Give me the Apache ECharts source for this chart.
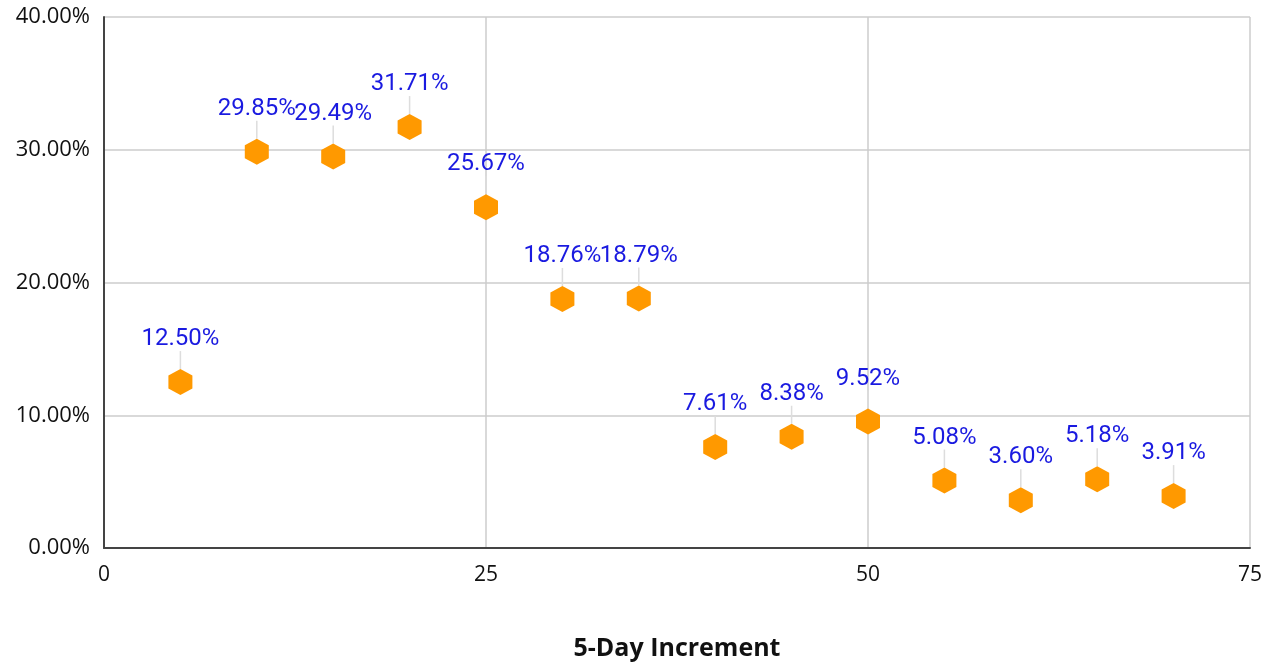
<!DOCTYPE html>
<html><head><meta charset="utf-8">
<script src="https://cdn.jsdelivr.net/npm/echarts@6/dist/echarts.min.js"></script>
<style>html,body{margin:0;padding:0;background:#fff}#c{width:1269px;height:666px}</style>
</head><body><div id="c"></div>
<script>
const days = [5,10,15,20,25,30,35,40,45,50,55,60,65,70];
const rates = [12.50,29.85,29.49,31.71,25.67,18.76,18.79,7.61,8.38,9.52,5.08,3.60,5.18,3.91];
const yTicks = [0,10,20,30,40];
const xTicks = [0,25,50,75];
const hex = 'path://M0,-1 L0.866,-0.5 L0.866,0.5 L0,1 L-0.866,0.5 L-0.866,-0.5 Z';
const chart = echarts.init(document.getElementById('c'));
chart.setOption({
  animation:false,
  grid:{left:104,right:19,top:17,bottom:118,containLabel:false,outerBoundsMode:'none'},
  xAxis:{type:'value',min:0,max:75,interval:25,
    name:'5-Day Increment',nameLocation:'middle',nameGap:88,
    nameTextStyle:{fontFamily:'Open Sans',fontWeight:'bold',fontSize:25,color:'#111'},
    axisLine:{lineStyle:{color:'#444',width:2}},axisTick:{show:false},
    axisLabel:{fontFamily:'Open Sans',fontSize:21,color:'#111',margin:17},
    splitLine:{show:true,lineStyle:{color:'#ccc',width:1.5}}},
  yAxis:{type:'value',min:0,max:40,interval:10,
    axisLine:{show:true,lineStyle:{color:'#444',width:2}},axisTick:{show:false},
    axisLabel:{fontFamily:'Open Sans',fontSize:22,color:'#111',margin:14,formatter:v=>v.toFixed(2)+'%'},
    splitLine:{show:true,lineStyle:{color:'#ccc',width:1.5}}},
  series:[{type:'scatter',data:days.map((d,i)=>[d,rates[i]]),
    symbol:hex,symbolSize:[24,26],symbolKeepAspect:false,
    itemStyle:{color:'#ff9900',opacity:1},
    label:{show:true,position:'top',distance:4,fontFamily:'Roboto',fontSize:24,color:'#1a1ae0',
      formatter:p=>p.value[1].toFixed(2)+'%'},
    labelLayout:{dy:-14},
    labelLine:{show:true,lineStyle:{color:'#ddd',width:1.5}}
  }]
});
</script></body></html>
